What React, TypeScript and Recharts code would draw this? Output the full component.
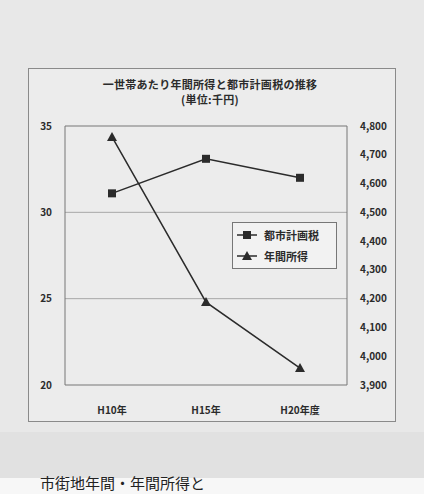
import { ComposedChart, Line, XAxis, YAxis, ReferenceLine } from 'recharts'

const years = ['H10年', 'H15年', 'H20年度']
const cityPlanTax = [31.1, 33.1, 32.0]
const annualIncome = [4762, 4188, 3959]
const leftTicks = [20, 25, 30, 35]
const rightTicks = [3900, 4000, 4100, 4200, 4300, 4400, 4500, 4600, 4700, 4800]

const TAX_NAME = '都市計画税'
const INCOME_NAME = '年間所得'
const FONT = '"Noto Sans CJK JP", "Noto Sans", sans-serif'
const INK = '#2b2b2b'

const chartData = years.map((y, i) => ({
  year: y,
  tax: cityPlanTax[i],
  income: annualIncome[i],
}))

function SquareDot({ cx, cy }: any) {
  if (cx == null || cy == null) return null
  return <rect x={cx - 4} y={cy - 4} width={8} height={8} fill={INK} />
}

function TriangleDot({ cx, cy }: any) {
  if (cx == null || cy == null) return null
  return <polygon points={`${cx},${cy - 5} ${cx - 5},${cy + 4} ${cx + 5},${cy + 4}`} fill={INK} />
}

// legend drawn as an overlay so it doesn't eat into the plot area
function LegendBox() {
  const row = (shape: 'sq' | 'tri', label: string) => (
    <div style={{ display: 'flex', alignItems: 'center', height: 21 }}>
      <svg width={22} height={10} style={{ marginRight: 6 }}>
        <line x1={1} y1={5} x2={21} y2={5} stroke={INK} strokeWidth={1.5} />
        {shape === 'sq'
          ? <rect x={7} y={1} width={8} height={8} fill={INK} />
          : <polygon points="11,0 6,9 16,9" fill={INK} />}
      </svg>
      <span>{label}</span>
    </div>
  )
  return (
    <div
      style={{
        position: 'absolute',
        left: 232,
        top: 222,
        width: 100,
        height: 44,
        border: '1px solid #777',
        background: '#f2f2f2',
        padding: '1px 0 0 3px',
        fontFamily: FONT,
        fontSize: 11,
        fontWeight: 700,
        color: INK,
      }}
    >
      {row('sq', TAX_NAME)}
      {row('tri', INCOME_NAME)}
    </div>
  )
}

export default function App() {
  return (
    <div style={{ position: 'absolute', left: 0, top: 0, width: 424, height: 494, background: '#e8e8e8', overflow: 'hidden' }}>
      <style>{'body{margin:0}'}</style>
      <div style={{ position: 'absolute', left: 0, top: 432, width: 424, height: 46, background: '#e1e1e1' }} />
      <div style={{ position: 'absolute', left: 0, top: 478, width: 424, height: 16, background: '#f7f7f7' }} />
      <div
        style={{
          position: 'absolute',
          left: 40,
          top: 474,
          fontFamily: FONT,
          fontSize: 15,
          lineHeight: '17px',
          color: '#222',
          whiteSpace: 'nowrap',
        }}
      >
        市街地年間・年間所得と
      </div>
      <div
        style={{
          position: 'absolute',
          left: 28,
          top: 68,
          width: 366,
          height: 352,
          border: '1px solid #8a8a8a',
          background: '#ececec',
        }}
      />
      <div
        style={{
          position: 'absolute',
          left: 0,
          top: 77,
          width: 424,
          textAlign: 'center',
          fontFamily: FONT,
          fontSize: 11,
          fontWeight: 700,
          color: INK,
          lineHeight: '15px',
          letterSpacing: '0.3px',
        }}
      >
        <div style={{ paddingRight: 4 }}>一世帯あたり年間所得と都市計画税の推移</div>
        <div style={{ paddingRight: 4 }}>(単位:千円)</div>
      </div>
      <div style={{ position: 'absolute', left: 0, top: 0 }}>
        <ComposedChart
          width={424}
          height={494}
          data={chartData}
          margin={{ top: 126, right: 27, bottom: 79, left: 30 }}
        >
          <XAxis
            dataKey="year"
            padding={{ left: 47, right: 47 }}
            tickLine={false}
            axisLine={{ stroke: '#777' }}
            tickMargin={16}
            height={30}
            tick={{ fill: INK, fontSize: 10, fontWeight: 700, fontFamily: FONT }}
          />
          <YAxis
            yAxisId="left"
            domain={[20, 35]}
            ticks={leftTicks}
            width={35}
            tickLine={false}
            tickSize={0}
            tickMargin={13}
            axisLine={{ stroke: '#777' }}
            tick={{ fill: INK, fontSize: 10, fontWeight: 700, fontFamily: FONT }}
          />
          <YAxis
            yAxisId="right"
            orientation="right"
            domain={[3900, 4800]}
            ticks={rightTicks}
            width={50}
            tickLine={false}
            tickSize={0}
            tickMargin={13}
            axisLine={{ stroke: '#777' }}
            tickFormatter={(v: number) => v.toLocaleString('en-US')}
            tick={{ fill: INK, fontSize: 10, fontWeight: 700, fontFamily: FONT }}
          />
          {leftTicks.slice(1).map(t => (
            <ReferenceLine
              key={t}
              yAxisId="left"
              y={t}
              stroke={t === 35 ? '#777' : '#a8a8a8'}
              strokeWidth={1}
            />
          ))}
          <Line
            yAxisId="left"
            dataKey="tax"
            name={TAX_NAME}
            stroke={INK}
            strokeWidth={1.5}
            dot={<SquareDot />}
            activeDot={false}
            isAnimationActive={false}
          />
          <Line
            yAxisId="right"
            dataKey="income"
            name={INCOME_NAME}
            stroke={INK}
            strokeWidth={1.5}
            dot={<TriangleDot />}
            activeDot={false}
            isAnimationActive={false}
          />
        </ComposedChart>
      </div>
      <LegendBox />
    </div>
  )
}
